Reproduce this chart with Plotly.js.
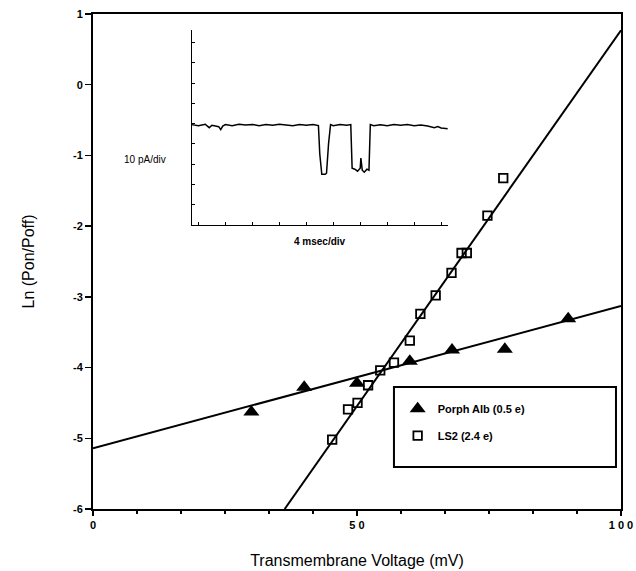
<!DOCTYPE html>
<html>
<head>
<meta charset="utf-8">
<script src="https://cdn.plot.ly/plotly-3.0.1.min.js"></script>
<style>html,body{margin:0;padding:0;background:#fff;}#chart{width:636px;height:571px;}</style>
</head>
<body>
<div id="chart"></div>
<script>
// Porph Alb (0.5 e) data points
const porphX = [30, 40, 50, 60, 68, 78, 90];
const porphY = [-4.63, -4.28, -4.22, -3.91, -3.75, -3.74, -3.31];
// LS2 (2.4 e) data points
const ls2X = [45.3, 48.3, 50.1, 52.1, 54.4, 57.0, 60.0, 62.0, 64.9, 67.9, 69.8, 70.8, 74.7, 77.7];
const ls2Y = [-5.02, -4.59, -4.50, -4.25, -4.04, -3.93, -3.62, -3.24, -2.98, -2.66, -2.38, -2.38, -1.85, -1.32];
// fitted lines (endpoints)
const porphFitX = [0, 100];
const porphFitY = [-5.14, -3.13];
const ls2FitX = [36.3, 100];
const ls2FitY = [-6, 0.77];
// inset single-channel current trace (time in msec, current in divisions)
const insetT = [0, 1, 2, 2.6, 3, 4, 4.3, 4.6, 5, 6, 7, 8, 9, 10, 11, 12, 13, 14, 15, 16, 17, 18, 18.8, 19.0, 19.3, 19.8, 20.0, 20.3, 20.6, 21, 22, 23, 23.6, 23.8, 24.2, 24.6, 25.0, 25.1, 25.3, 25.6, 26.0, 26.3, 26.5, 27, 28, 29, 30, 31, 32, 33, 34, 35, 36, 36.5, 37, 38];
const insetI = [4.95, 4.9, 4.97, 4.8, 4.92, 4.85, 4.7, 4.88, 4.95, 4.9, 4.97, 4.93, 4.96, 4.9, 4.95, 4.92, 4.97, 4.93, 4.9, 4.95, 4.92, 4.96, 4.9, 3.5, 2.5, 2.5, 2.55, 4.0, 4.95, 4.9, 4.96, 4.92, 4.95, 2.8, 2.75, 2.65, 2.8, 3.3, 2.7, 2.6, 2.75, 2.7, 4.95, 4.9, 4.94, 4.9, 4.96, 4.92, 4.95, 4.9, 4.93, 4.88, 4.8, 4.85, 4.78, 4.75];
// tick labels
const xTickVals = [0, 50, 100];
const xTickText = ['0', '5 0', '1 0 0'];
const yTickVals = [1, 0, -1, -2, -3, -4, -5, -6];
const yTickText = ['1', '0', '-1', '-2', '-3', '-4', '-5', '-6'];

const FONT = 'Liberation Sans, Arial, Helvetica, sans-serif';

const traces = [
  {x: porphFitX, y: porphFitY, mode: 'lines', line: {color: '#000', width: 2}, showlegend: false, hoverinfo: 'skip'},
  {x: ls2FitX, y: ls2FitY, mode: 'lines', line: {color: '#000', width: 2}, showlegend: false, hoverinfo: 'skip'},
  {x: porphX, y: porphY, mode: 'markers', name: 'Porph Alb (0.5 e)', legendgroup: 'a',
   marker: {symbol: 'triangle-up', size: 14, color: '#000'}},
  {x: ls2X, y: ls2Y, mode: 'markers', name: 'LS2 (2.4 e)', legendgroup: 'b',
   marker: {symbol: 'square-open', size: 8.5, color: '#000', line: {width: 1.8, color: '#000'}}},
  {x: insetT, y: insetI, mode: 'lines', xaxis: 'x2', yaxis: 'y2', showlegend: false,
   line: {color: '#000', width: 1.5}, hoverinfo: 'skip'}
];

const layout = {
  width: 636, height: 571,
  margin: {l: 93, r: 15, t: 14, b: 62},
  paper_bgcolor: '#fff', plot_bgcolor: '#fff',
  font: {family: FONT, color: '#000'},
  showlegend: true,
  xaxis: {
    range: [0, 100], showgrid: false, zeroline: false,
    showline: true, linewidth: 2, linecolor: '#000', mirror: true,
    ticks: 'outside', ticklen: 5, tickwidth: 1.5, tickcolor: '#000',
    tickvals: xTickVals, ticktext: xTickText,
    minor: {dtick: 50/6, ticks: 'outside', ticklen: 3, tickwidth: 1.5, tickcolor: '#000', showgrid: false},
    tickfont: {family: FONT, size: 11, weight: 'bold'},
    title: {text: 'Transmembrane Voltage (mV)', font: {family: FONT, size: 16}, standoff: 25}
  },
  yaxis: {
    range: [-6, 1], showgrid: false, zeroline: false,
    showline: true, linewidth: 2, linecolor: '#000', mirror: true,
    ticks: 'outside', ticklen: 6, tickwidth: 1.5, tickcolor: '#000',
    tickvals: yTickVals, ticktext: yTickText,
    tickfont: {family: FONT, size: 11, weight: 'bold'},
    title: {text: 'Ln (Pon/Poff)', font: {family: FONT, size: 16}, standoff: 34}
  },
  xaxis2: {
    domain: [0.187, 0.672], anchor: 'y2', range: [0, 38],
    showgrid: false, zeroline: false, showline: true, linewidth: 1, linecolor: '#000',
    ticks: 'inside', ticklen: 3, tickcolor: '#000', tick0: 1, dtick: 4, showticklabels: false
  },
  yaxis2: {
    domain: [0.574, 0.968], anchor: 'x2', range: [0, 9.63],
    showgrid: false, zeroline: false, showline: true, linewidth: 1, linecolor: '#000',
    ticks: 'inside', ticklen: 3, tickcolor: '#000', dtick: 1, showticklabels: false
  },
  legend: {
    x: 0.577, y: 0.232, xanchor: 'left', yanchor: 'top',
    bgcolor: 'rgba(0,0,0,0)', borderwidth: 0,
    font: {family: FONT, size: 11, weight: 'bold'},
    traceorder: 'grouped', tracegroupgap: 8
  },
  shapes: [
    {type: 'rect', xref: 'paper', yref: 'paper', x0: 0.570, x1: 0.9905, y0: 0.0849, y1: 0.2466,
     line: {color: '#000', width: 2}, fillcolor: 'rgba(0,0,0,0)'}
  ],
  annotations: [
    {text: '10 pA/div', xref: 'paper', yref: 'paper', x: 0.055, y: 0.722, showarrow: false,
     font: {family: FONT, size: 10}},
    {text: '4 msec/div', xref: 'paper', yref: 'paper', x: 0.43, y: 0.54, showarrow: false,
     font: {family: FONT, size: 10, weight: 'bold'}}
  ]
};

Plotly.newPlot('chart', traces, layout, {displayModeBar: false, staticPlot: true});
</script>
</body>
</html>
